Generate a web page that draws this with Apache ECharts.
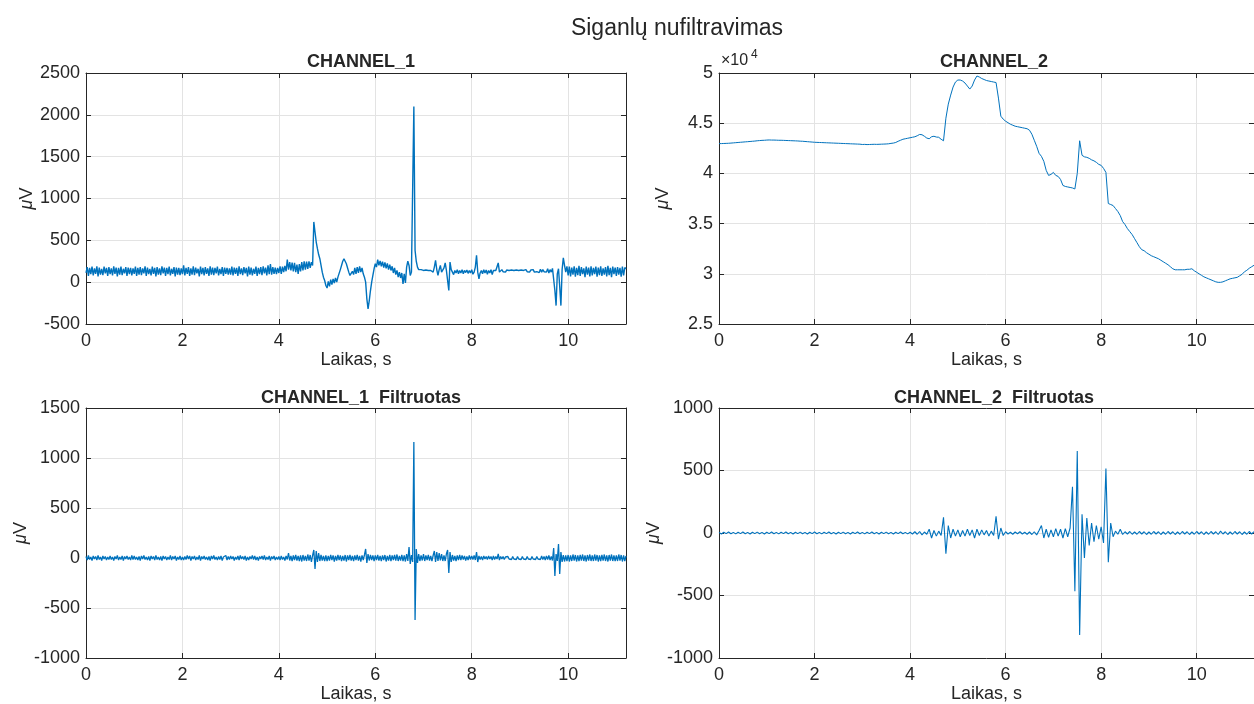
<!DOCTYPE html>
<html>
<head>
<meta charset="utf-8">
<script src="https://cdn.jsdelivr.net/npm/echarts@6/dist/echarts.min.js"></script>
<style>
html,body{margin:0;padding:0;background:#fff;}
#chart{width:1254px;height:704px;}
</style>
</head>
<body>
<div id="chart"></div>
<script>
// ---------------- DATA ----------------
const denseStep = 0.025;           // CHANNEL_1 sampling step, s (0 ... 11.2 s)
const sampleStep = 0.05;           // CHANNEL_2 sampling step, s (0 ... 11.2 s)
const xTickLabels = ['0','2','4','6','8','10'];
const mainTitle = 'Siganlų nufiltravimas';
const panelTitles = ['CHANNEL_1', 'CHANNEL_2', 'CHANNEL_1  Filtruotas', 'CHANNEL_2  Filtruotas'];
const xName = 'Laikas, s';

// CHANNEL_1 raw, µV (one row = one second, 40 samples)
const ch1Raw = [
  110,180,75,170,95,185,80,165,100,190,70,175,90,160,85,185,105,170,75,180,95,165,80,190,100,175,70,170,90,185,85,160,105,180,75,175,95,170,80,165,
  100,185,75,170,90,180,85,165,105,190,75,175,95,160,80,185,100,170,70,180,90,165,85,190,105,175,75,170,95,185,80,160,100,180,70,175,90,170,85,165,
  95,200,80,170,100,180,75,165,90,190,85,175,105,160,70,185,95,170,80,180,100,165,75,190,90,175,85,170,105,185,80,160,95,180,75,175,100,170,90,165,
  90,185,80,175,100,170,75,190,95,165,85,180,105,170,70,185,90,175,80,160,100,185,75,170,95,180,85,190,105,175,80,200,95,215,90,180,100,175,95,170,
  110,190,100,185,120,195,130,270,150,240,140,235,130,230,120,210,100,215,130,240,140,250,150,245,160,250,170,240,200,720,600,480,400,330,280,200,120,60,20,-40,
  -70,10,-50,30,-30,40,-10,50,0,60,80,150,200,250,280,260,220,170,120,80,60,130,90,170,100,180,110,190,120,170,100,60,0,-200,-320,-220,-100,0,80,160,
  220,180,270,200,255,190,245,175,235,165,225,150,210,140,190,110,170,90,140,60,120,50,110,-20,100,-10,180,250,200,80,120,100,2100,380,250,180,150,140,150,135,
  140,125,145,130,140,120,140,125,120,180,260,150,80,150,200,120,110,170,230,140,130,-100,240,150,120,90,140,110,150,100,140,110,150,100,140,115,145,105,140,110,
  150,95,120,180,320,120,40,110,140,100,150,110,145,95,140,110,150,90,140,120,140,150,230,120,110,150,125,145,120,145,125,140,120,145,130,140,120,145,125,140,
  120,145,125,140,120,150,125,140,120,145,125,150,120,140,125,145,115,155,120,150,125,145,120,160,110,150,120,165,170,-100,-280,100,160,-50,-280,150,290,200,120,190,
  80,185,70,175,90,190,65,170,85,195,75,180,95,165,60,185,90,175,70,190,80,170,95,185,65,175,85,190,75,165,90,180,70,195,85,170,60,185,95,175,
  75,180,90,170,65,185,80,175,160
];

// CHANNEL_1 filtered, µV (one row = one second, 40 samples)
const ch1Filt = [
  15,-20,25,-15,10,-25,20,-10,15,-20,25,-15,10,-25,20,-10,15,-20,10,-15,20,-15,10,-25,15,-10,25,-20,10,-15,20,-25,15,-10,20,-15,10,-20,25,-15,
  20,-15,10,-20,15,-25,20,-10,25,-15,10,-20,15,-25,20,-10,15,-20,25,-15,10,-20,15,-25,20,-10,15,-20,10,-15,25,-20,15,-10,20,-25,10,-15,20,-20,
  10,-20,15,-15,25,-10,20,-25,15,-10,20,-20,10,-15,25,-25,15,-10,20,-15,10,-20,15,-25,20,-10,25,-15,10,-20,15,-15,20,-25,10,-10,25,-20,15,-15,
  20,-10,15,-25,10,-15,20,-20,25,-10,15,-15,20,-25,10,-20,15,-10,25,-15,20,-20,10,-25,15,-10,20,-15,25,-20,10,-15,20,-25,15,-10,20,-20,10,-15,
  15,-20,20,-15,10,-25,20,-15,50,-25,20,-30,25,-20,30,-25,20,-30,25,-35,30,-25,20,-30,35,-25,30,-40,25,80,-110,70,-40,50,-30,30,-25,20,-30,25,
  -30,20,-25,30,-20,25,-35,20,-25,30,-20,25,-30,20,-25,30,-35,25,-20,30,-25,20,-30,25,-20,30,-25,20,-35,25,-20,30,90,-50,40,-25,30,-20,25,-30,
  25,-20,30,-25,20,-30,25,-20,30,-35,20,-25,30,-30,25,-20,30,-25,35,-30,20,-25,30,-30,25,-35,40,-30,110,-60,30,-40,1160,-620,90,-50,40,-30,25,-25,
  40,-30,25,-20,30,-25,20,-30,25,70,-40,60,-30,50,-25,40,-30,25,-30,40,80,-150,60,-40,30,-25,20,-30,25,-20,30,-20,25,-15,20,-25,15,-20,25,-15,
  20,-15,25,-20,60,-40,20,-15,15,-20,20,-10,15,-15,20,-10,15,-20,20,-15,15,-10,40,-20,15,-10,15,-15,10,-10,15,-10,10,-15,15,-10,10,-15,15,-10,
  10,-15,15,-10,10,-15,15,-10,10,-15,15,-10,10,-15,15,-10,10,-15,20,-15,15,-20,20,-15,25,-20,15,-25,100,-180,40,-30,140,-160,60,-40,30,-35,25,-30,
  30,-35,25,-30,35,-25,30,-35,25,-30,30,-25,35,-30,25,-35,30,-25,35,-30,25,-30,35,-25,30,-35,25,-30,30,-25,35,-30,25,-35,30,-25,35,-30,25,-30,
  25,-30,35,-25,30,-35,25,-30,20
];

// CHANNEL_2 raw, µV (one row = one second, 20 samples)
const ch2Raw = [
  42970,42970,42980,42990,43000,43020,43040,43060,43080,43100,43120,43140,43160,43180,43200,43220,43250,43270,43290,43300,
  43320,43330,43320,43320,43310,43300,43300,43290,43280,43270,43260,43250,43240,43230,43210,43200,43180,43160,43140,43120,
  43100,43090,43080,43070,43060,43050,43040,43030,43020,43010,43000,42990,42980,42970,42960,42950,42940,42930,42920,42910,
  42880,42890,42870,42880,42890,42900,42890,42900,42910,42920,42930,42950,42990,43020,43080,43200,43300,43400,43450,43500,
  43550,43600,43650,43750,43880,43850,43700,43520,43450,43650,43700,43620,43600,43400,43250,45500,46900,47800,48600,49100,
  49300,49300,49200,49000,48700,48400,48700,49300,49700,49600,49450,49350,49250,49200,49150,49100,49050,47500,45700,45400,
  45200,45050,44900,44800,44700,44650,44600,44550,44500,44450,44300,43900,43300,42700,42000,41700,41200,40300,39800,39900,
  40100,39800,39700,39400,38800,38700,38650,38600,38550,38450,40000,43250,41800,41650,41600,41500,41350,41250,41100,40900,
  40800,40500,40100,37000,36900,36800,36500,36200,35800,35200,34900,34500,34200,33900,33500,33100,32700,32400,32300,32100,
  31950,31800,31700,31600,31500,31350,31200,31050,30900,30700,30500,30400,30400,30400,30400,30400,30450,30450,30500,30300,
  30150,30000,29850,29700,29600,29500,29400,29300,29200,29150,29150,29200,29300,29400,29500,29550,29600,29650,29800,29950,
  30200,30350,30550,30700,30850
];

// CHANNEL_2 filtered, µV (one row = one second, 20 samples)
const ch2Filt = [
  5,-8,6,-5,8,-6,5,-7,6,-5,8,-6,5,-8,6,-5,7,-6,5,-8,
  6,-5,8,-6,5,-7,6,-5,8,-6,5,-8,6,-5,7,-6,5,-8,6,-5,
  8,-6,5,-7,6,-5,8,-6,5,-8,6,-5,7,-6,5,-8,6,-5,8,-6,
  5,-7,6,-5,8,-6,5,-8,6,-5,7,-6,5,-8,6,-5,8,-6,5,-7,
  6,-8,10,-10,12,-15,8,-10,30,-40,20,-25,15,-20,125,-165,60,-40,30,-25,
  25,-30,20,-25,30,-20,25,-40,30,-20,25,-15,20,-25,15,-20,133,-50,40,-20,
  10,-8,6,-10,8,-6,10,-8,6,-10,8,-12,10,-15,20,60,-40,30,-35,25,
  -30,35,-25,30,-40,35,-30,40,370,-465,655,-815,150,-200,120,-100,80,-70,60,-50,
  50,-80,515,-233,80,-30,15,-10,30,-12,10,-8,12,-10,8,-10,12,-8,10,-12,
  8,-10,12,-8,10,-12,8,-10,12,-8,10,-12,8,-10,12,-8,10,-12,8,-10,
  12,-8,10,-12,8,-10,12,-8,10,-12,15,-8,10,-12,8,-10,12,-8,10,-12,
  8,-10,12,-8,10
];

// ---------------- CHART ----------------
const FONT = '"Liberation Sans", Arial, Helvetica, sans-serif';
const TXT = '#262626';
const LINE = '#0072BD';
const GRIDC = '#e3e3e3';

function pairs(vals, step) {
  return vals.map((v, i) => [Math.round(i * step * 1000) / 1000, v]);
}

const grids = [
  {left: 86,  top: 73,  width: 540, height: 251},
  {left: 719, top: 73,  width: 540, height: 251},
  {left: 86,  top: 408, width: 540, height: 252},
  {left: 719, top: 408, width: 540, height: 252}
];
const yRanges = [
  {min: -500, max: 2500, interval: 500},
  {min: 25000, max: 50000, interval: 5000},
  {min: -1000, max: 1500, interval: 500},
  {min: -1000, max: 1000, interval: 500}
];
const seriesData = [pairs(ch1Raw, denseStep), pairs(ch2Raw, sampleStep), pairs(ch1Filt, denseStep), pairs(ch2Filt, sampleStep)];
const lineWidths = [1.4, 1, 1.3, 1.1];

const xAxes = [], yAxes = [], series = [];
grids.forEach((g, i) => {
  xAxes.push({
    type: 'value', gridIndex: i, min: 0, max: 11.2, interval: 2,
    position: 'bottom',
    name: xName, nameLocation: 'middle', nameGap: 27,
    nameTextStyle: {color: TXT, fontSize: 18, fontFamily: FONT},
    axisLine: {show: true, onZero: false, lineStyle: {color: TXT, width: 1}},
    axisTick: {show: true, inside: true, length: 5, lineStyle: {color: TXT}},
    axisLabel: {color: TXT, fontSize: 18, fontFamily: FONT, margin: 8, showMaxLabel: false,
      formatter: v => { const k = Math.round(v / 2); return (Math.abs(v - 2 * k) < 1e-9 && k < xTickLabels.length) ? xTickLabels[k] : ''; }},
    splitLine: {show: true, lineStyle: {color: GRIDC, width: 1}}
  });
  xAxes.push({
    type: 'value', gridIndex: i, min: 0, max: 11.2, interval: 2, position: 'top',
    axisLine: {show: true, onZero: false, lineStyle: {color: TXT, width: 1}},
    axisTick: {show: true, inside: true, length: 5, lineStyle: {color: TXT}},
    axisLabel: {show: false}, splitLine: {show: false}
  });
  const r = yRanges[i];
  yAxes.push({
    type: 'value', gridIndex: i, min: r.min, max: r.max, interval: r.interval,
    position: 'left',
    name: '{i|μ}V', nameLocation: 'middle', nameGap: 47, nameRotate: 90,
    nameTextStyle: {color: TXT, fontSize: 18, fontFamily: FONT,
      rich: {i: {fontStyle: 'italic', fontSize: 18, fontFamily: FONT, color: TXT}}},
    axisLine: {show: true, onZero: false, lineStyle: {color: TXT, width: 1}},
    axisTick: {show: true, inside: true, length: 5, lineStyle: {color: TXT}},
    axisLabel: {color: TXT, fontSize: 18, fontFamily: FONT, margin: 6,
      formatter: i === 1 ? (v => String(v / 10000)) : (v => String(v))},
    splitLine: {show: true, lineStyle: {color: GRIDC, width: 1}}
  });
  yAxes.push({
    type: 'value', gridIndex: i, min: r.min, max: r.max, interval: r.interval,
    position: 'right',
    axisLine: {show: true, onZero: false, lineStyle: {color: TXT, width: 1}},
    axisTick: {show: true, inside: true, length: 5, lineStyle: {color: TXT}},
    axisLabel: {show: false}, splitLine: {show: false}
  });
  series.push({
    type: 'line', xAxisIndex: 2 * i, yAxisIndex: 2 * i,
    data: seriesData[i], showSymbol: false, symbol: 'none',
    sampling: false, animation: false, clip: true,
    lineStyle: {color: LINE, width: lineWidths[i]}
  });
});

const titles = [
  {text: mainTitle, left: 672, top: 12, textAlign: 'center',
   textStyle: {fontSize: 23, fontWeight: 'normal', color: TXT, fontFamily: FONT}},
  {text: panelTitles[0], left: 356, top: 48, textAlign: 'center',
   textStyle: {fontSize: 18, fontWeight: 'bold', color: TXT, fontFamily: FONT}},
  {text: panelTitles[1], left: 989, top: 48, textAlign: 'center',
   textStyle: {fontSize: 18, fontWeight: 'bold', color: TXT, fontFamily: FONT}},
  {text: panelTitles[2], left: 356, top: 384, textAlign: 'center',
   textStyle: {fontSize: 18, fontWeight: 'bold', color: TXT, fontFamily: FONT}},
  {text: panelTitles[3], left: 989, top: 384, textAlign: 'center',
   textStyle: {fontSize: 18, fontWeight: 'bold', color: TXT, fontFamily: FONT}}
];

const chart = echarts.init(document.getElementById('chart'), null, {renderer: 'canvas'});
chart.setOption({
  backgroundColor: '#ffffff',
  animation: false,
  title: titles,
  grid: grids.map(g => Object.assign({containLabel: false}, g)),
  xAxis: xAxes,
  yAxis: yAxes,
  series: series,
  graphic: [
    {type: 'text', left: 721, top: 53, style: {text: '×10', fontSize: 16, fill: TXT, fontFamily: FONT}},
    {type: 'text', left: 751, top: 49, style: {text: '4', fontSize: 12, fill: TXT, fontFamily: FONT}}
  ]
});
</script>
</body>
</html>
